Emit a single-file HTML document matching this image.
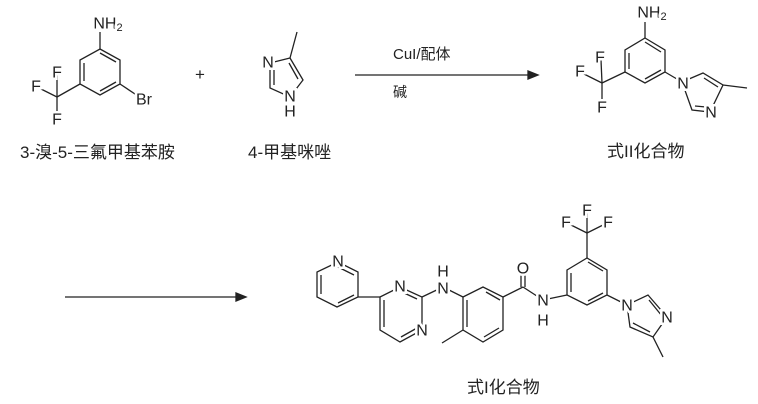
<!DOCTYPE html>
<html><head><meta charset="utf-8"><style>
html,body{margin:0;padding:0;background:#fff;}
svg{display:block}
text{font-family:"Liberation Sans","Noto Sans CJK SC",sans-serif;fill:#222}
.a{font-size:16px;text-anchor:middle;dominant-baseline:central;stroke:#fff;stroke-width:5px;paint-order:stroke}
.s{font-size:11px}
.l{font-size:17px}
line,polyline,polygon{stroke:#222;stroke-width:1.3;fill:none}
</style></head><body>
<svg width="758" height="404" viewBox="0 0 758 404" xmlns="http://www.w3.org/2000/svg">
<!-- Molecule 1 -->
<polygon points="100,49 120,60 120,84 100,95 80,84 80,60"/>
<line x1="100" y1="53" x2="116" y2="62"/>
<line x1="116" y1="82" x2="100" y2="91"/>
<line x1="84" y1="81" x2="84" y2="63"/>
<line x1="100" y1="49" x2="100" y2="32"/>
<line x1="120" y1="84" x2="138" y2="96"/>
<line x1="80" y1="84" x2="57" y2="97"/>
<line x1="57" y1="97" x2="57" y2="75"/>
<line x1="57" y1="97" x2="37" y2="87"/>
<line x1="57" y1="97" x2="57" y2="118"/>
<text class="a" x="108" y="24">NH<tspan class="s" dy="4">2</tspan></text>
<text class="a" x="144" y="100">Br</text>
<text class="a" x="57" y="73">F</text>
<text class="a" x="36" y="87">F</text>
<text class="a" x="57" y="120">F</text>
<text class="l" x="20" y="158">3-溴-5-三氟甲基苯胺</text>
<text x="200" y="80" style="font-size:17px;text-anchor:middle">+</text>
<!-- Imidazole -->
<polygon points="290,58 303,80 290,97 270,88 270,63"/>
<line x1="289" y1="63" x2="298" y2="79"/>
<line x1="274" y1="85" x2="274" y2="67"/>
<line x1="290" y1="58" x2="297" y2="32"/>
<text class="a" x="268" y="63">N</text>
<text class="a" x="290" y="97">N</text>
<text class="a" x="290" y="112">H</text>
<text class="l" x="248" y="158">4-甲基咪唑</text>
<!-- Arrow 1 -->
<line x1="355" y1="75" x2="532" y2="75"/>
<polygon points="538,75 528,71 528,79" style="fill:#222"/>
<text x="393" y="59" style="font-size:15px">CuI/配体</text>
<text x="393" y="97" style="font-size:14px">碱</text>
<!-- Product II -->
<polygon points="645,38 665,50 665,72 645,83 625,72 625,50"/>
<line x1="645" y1="42" x2="661" y2="52"/>
<line x1="661" y1="70" x2="645" y2="79"/>
<line x1="629" y1="69" x2="629" y2="53"/>
<line x1="645" y1="38" x2="645" y2="22"/>
<line x1="625" y1="72" x2="602" y2="83"/>
<line x1="602" y1="83" x2="601" y2="60"/>
<line x1="602" y1="83" x2="580" y2="72"/>
<line x1="602" y1="83" x2="602" y2="106"/>
<line x1="665" y1="72" x2="682" y2="82"/>
<polygon points="682,82 703,73 723,85 710,112 692,110"/>
<line x1="704" y1="78" x2="718" y2="87"/>
<line x1="695" y1="106" x2="706" y2="107"/>
<line x1="723" y1="85" x2="747" y2="88"/>
<text class="a" x="652" y="13">NH<tspan class="s" dy="4">2</tspan></text>
<text class="a" x="600" y="58">F</text>
<text class="a" x="580" y="72">F</text>
<text class="a" x="602" y="108">F</text>
<text class="a" x="683" y="84">N</text>
<text class="a" x="711" y="113">N</text>
<text class="l" x="607" y="157">式II化合物</text>
<!-- Arrow 2 -->
<line x1="65" y1="297" x2="240" y2="297"/>
<polygon points="246,297 236,293 236,301" style="fill:#222"/>
<!-- Product I -->
<polygon points="338,262 358,272 358,297 337,307 317,297 317,272"/>
<line x1="338" y1="267" x2="354" y2="275"/>
<line x1="354" y1="295" x2="338" y2="303"/>
<line x1="321" y1="294" x2="321" y2="275"/>
<line x1="358" y1="297" x2="380" y2="297"/>
<polygon points="380,297 400,287 422,297 422,330 400,342 380,330"/>
<line x1="402" y1="292" x2="417" y2="299"/>
<line x1="384" y1="300" x2="384" y2="327"/>
<line x1="401" y1="337" x2="417" y2="328"/>
<line x1="422" y1="297" x2="443" y2="287"/>
<line x1="443" y1="287" x2="463" y2="297"/>
<polygon points="463,297 483,287 503,297 503,330 483,342 463,330"/>
<line x1="467" y1="300" x2="467" y2="327"/>
<line x1="486" y1="292" x2="500" y2="300"/>
<line x1="499" y1="328" x2="484" y2="337"/>
<line x1="463" y1="330" x2="442" y2="343"/>
<line x1="503" y1="297" x2="523" y2="287"/>
<line x1="521" y1="287" x2="521" y2="270"/>
<line x1="525" y1="287" x2="525" y2="270"/>
<line x1="523" y1="287" x2="543" y2="300"/>
<line x1="543" y1="300" x2="567" y2="295"/>
<polygon points="567,270 587,258 607,270 607,295 587,305 567,295"/>
<line x1="571" y1="273" x2="571" y2="292"/>
<line x1="588" y1="262" x2="603" y2="271"/>
<line x1="603" y1="293" x2="588" y2="301"/>
<line x1="587" y1="258" x2="587" y2="233"/>
<line x1="587" y1="233" x2="587" y2="212"/>
<line x1="587" y1="233" x2="567" y2="223"/>
<line x1="587" y1="233" x2="607" y2="223"/>
<line x1="607" y1="295" x2="627" y2="305"/>
<polygon points="627,305 648,295 667,317 653,337 630,327"/>
<line x1="649" y1="300" x2="662" y2="316"/>
<line x1="633" y1="323" x2="650" y2="332"/>
<line x1="653" y1="337" x2="663" y2="357"/>
<text class="a" x="338" y="262">N</text>
<text class="a" x="400" y="287">N</text>
<text class="a" x="422" y="331">N</text>
<text class="a" x="443" y="289">N</text>
<text class="a" x="443" y="272">H</text>
<text class="a" x="523" y="269">O</text>
<text class="a" x="543" y="301">N</text>
<text class="a" x="543" y="321">H</text>
<text class="a" x="587" y="211">F</text>
<text class="a" x="566" y="223">F</text>
<text class="a" x="608" y="223">F</text>
<text class="a" x="627" y="306">N</text>
<text class="a" x="667" y="318">N</text>
<text class="l" x="467" y="393">式I化合物</text>
</svg>
</body></html>
